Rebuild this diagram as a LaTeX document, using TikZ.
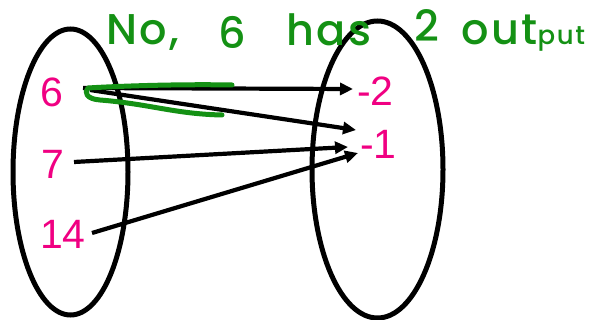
\documentclass[tikz,border=0pt]{standalone}
\usepackage{fontspec}
\setmainfont{Liberation Sans}
\newfontfamily\handfont[LetterSpace=6,BoldFont={Poppins Medium}]{Poppins}
\usetikzlibrary{arrows.meta}
\definecolor{labelpink}{RGB}{240,0,130}
\definecolor{notegreen}{RGB}{20,145,20}
\tikzset{
  setshape/.style={draw=black,line width=5pt},
  elem/.style={text=labelpink,font=\fontsize{41}{41}\selectfont,inner sep=0pt},
  maparrow/.style={draw=black,line width=4.2pt,-{Triangle[length=13pt,width=12pt]}},
  note/.style={text=notegreen,font=\handfont\bfseries\fontsize{43}{43}\selectfont,inner sep=0pt,anchor=base west},
  scribble/.style={draw=notegreen,line width=5pt,line cap=round,line join=round}
}
\begin{document}
\begin{tikzpicture}[x=1pt,y=-1pt]
\useasboundingbox (0,0) rectangle (597,320);
% sets
\draw[setshape] (70.5,172) ellipse [x radius=57.5pt, y radius=143pt];
\draw[setshape] (377.5,169.5) ellipse [x radius=65.5pt, y radius=148.5pt];
% domain elements
\node[elem] (n6) at (52,92.5) {6};
\node[elem] (n7) at (53,164) {7};
\node[elem] (n14) at (63,234) {14};
% range elements
\node[elem] (m2) at (375.5,91.5) {-2};
\node[elem] (m1) at (378.5,144) {-1};
% arrow end points
\coordinate (s6a) at (83,88);
\coordinate (s6b) at (90,90);
\coordinate (s7) at (74,162);
\coordinate (s14) at (92,233);
\coordinate (t2) at (353,89);
\coordinate (t1a) at (356,130);
\coordinate (t1b) at (348,147);
\coordinate (t1c) at (358,153);
\draw[maparrow] (s6a) -- (t2);
\draw[maparrow] (s6b) -- (t1a);
\draw[maparrow] (s7) -- (t1b);
\draw[maparrow] (s14) -- (t1c);
% green annotation
\coordinate (g0) at (232,85);
\coordinate (g1) at (88,88);
\coordinate (g2) at (222,115);
\draw[scribble] (g0) .. controls (180,84) and (120,86) .. (g1)
  .. controls (84,92) and (86,99) .. (100,100)
  .. controls (150,104) and (175,114) .. (g2);
\node[note] (w1) at (106,45) {No,};
\node[note] (w2) at (218,49) {6};
\node[note] (w3) at (286,46) {has};
\node[note] (w4) at (414,42) {2};
\node[note] (w5) at (461,45) {out{\fontsize{26}{26}\selectfont put}};
\end{tikzpicture}
\end{document}
